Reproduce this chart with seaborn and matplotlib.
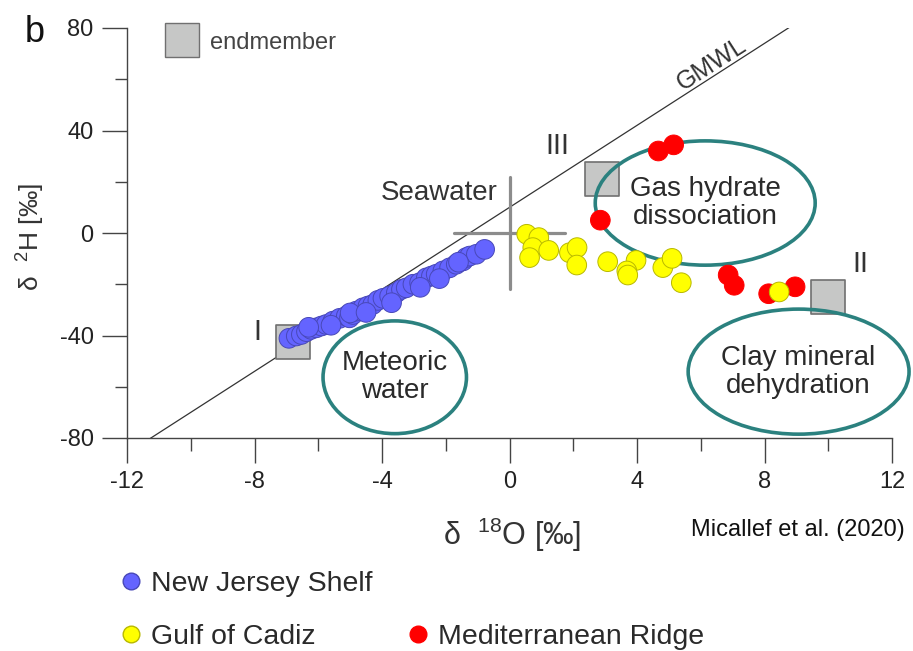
import matplotlib

matplotlib.use("Agg")

import matplotlib.pyplot as plt
import numpy as np
import pandas as pd
import seaborn as sns
from matplotlib.lines import Line2D
from matplotlib.patches import Ellipse

# New Jersey Shelf (d18O, d2H)
NJ_D18O = [-6.92, -6.69, -6.53, -6.37, -6.22, -6.06, -5.90, -5.75, -5.54, -5.33,
           -5.12, -5.02, -4.91, -4.81, -4.60, -4.44, -4.29, -4.13, -3.97, -3.76,
           -3.55, -3.39, -3.24, -3.03, -2.82, -2.61, -2.45, -2.30, -2.09, -1.88,
           -1.67, -1.46, -1.36, -1.25, -1.04, -0.78, -6.30, -5.60, -5.00, -4.50,
           -3.70, -2.80, -2.20, -1.60]
NJ_D2H = [-41.1, -40.2, -39.6, -38.5, -37.6, -37.0, -36.3, -35.7, -34.4, -33.3,
          -32.4, -33.1, -31.8, -30.5, -29.2, -28.5, -27.9, -26.3, -25.5, -24.6,
          -23.3, -22.0, -21.4, -20.0, -19.4, -17.5, -16.8, -16.1, -14.8, -13.6,
          -12.2, -10.9, -9.6, -9.0, -8.3, -6.4, -36.8, -36.0, -31.2, -31.0,
          -27.2, -21.2, -17.8, -11.4]

# Gulf of Cadiz
GC_D18O = [0.54, 0.92, 0.73, 1.23, 0.63, 1.88, 2.12, 2.11, 3.08, 3.97,
           3.68, 3.71, 4.81, 5.10, 5.39, 8.46]
GC_D2H = [-0.5, -1.8, -5.7, -6.8, -9.6, -7.7, -5.7, -12.5, -11.2, -10.7,
          -14.8, -16.4, -13.5, -9.9, -19.4, -23.0]

# Mediterranean Ridge
MR_D18O = [4.67, 5.15, 2.85, 6.86, 7.05, 8.13, 8.96]
MR_D2H = [32.0, 34.4, 5.0, -16.4, -20.4, -23.7, -21.0]

# endmembers I, III, II
EM_LABELS = ["I", "III", "II"]
EM_D18O = [-6.8, 2.9, 10.0]
EM_D2H = [-42.5, 21.0, -25.0]

SITES = ["New Jersey Shelf", "Gulf of Cadiz", "Mediterranean Ridge"]
SITE_COLORS = {"New Jersey Shelf": "#6464ff", "Gulf of Cadiz": "#ffff00",
               "Mediterranean Ridge": "#ff0000"}
SITE_EDGES = {"New Jersey Shelf": "#4848b8", "Gulf of Cadiz": "#b8b800",
              "Mediterranean Ridge": "#ff0000"}

# process regions: label, centre x, centre y, width, height
REGIONS = [
    ("Meteoric\nwater", -3.6, -56.3, 4.5, 44.0),
    ("Gas hydrate\ndissociation", 6.14, 11.7, 6.9, 48.5),
    ("Clay mineral\ndehydration", 9.07, -54.1, 6.93, 48.8),
]

TEAL = "#2b817f"

df = pd.concat([
    pd.DataFrame({"d18O": NJ_D18O, "d2H": NJ_D2H, "site": SITES[0]}),
    pd.DataFrame({"d18O": MR_D18O, "d2H": MR_D2H, "site": SITES[2]}),
    pd.DataFrame({"d18O": GC_D18O, "d2H": GC_D2H, "site": SITES[1]}),
], ignore_index=True)

sns.set_style("ticks")
plt.rcParams["font.family"] = ["Liberation Sans", "DejaVu Sans"]
plt.rcParams["mathtext.default"] = "regular"
plt.rcParams["axes.unicode_minus"] = False

fig = plt.figure(figsize=(9.13, 6.51), dpi=100)
ax = fig.add_axes([127 / 913, 1 - 438 / 651, 765 / 913, 410 / 651])

# GMWL: d2H = 8 d18O + 10
gx = np.array([-12.0, 12.0])
ax.plot(gx, 8 * gx + 10, color="#333333", lw=0.9, zorder=1)
ax.text(6.33, 66.0, "GMWL", rotation=32.7, ha="center", va="center",
        fontsize=18, color="#333333", rotation_mode="anchor")

# seawater cross
ax.plot([0, 0], [-22, 22], color="#8c8c8c", lw=2.3, zorder=2)
ax.plot([-1.75, 1.75], [0, 0], color="#8c8c8c", lw=2.3, zorder=2)
ax.text(-2.2, 15.5, "Seawater", ha="center", va="center", fontsize=20, color="#333333")

# endmembers
ax.scatter(EM_D18O, EM_D2H, marker="s", s=600, color="#c6c7c6",
           edgecolor="#707070", linewidth=1.2, zorder=3, clip_on=False)
em_text_offsets = {"I": (-1.1, 4.0), "III": (-1.4, 13.0), "II": (1.0, 13.0)}
for lab, x, y in zip(EM_LABELS, EM_D18O, EM_D2H):
    dx, dy = em_text_offsets[lab]
    ax.text(x + dx, y + dy, lab, ha="center", va="center", fontsize=21, color="#333333")

# process ellipses
for lab, cx, cy, w, h in REGIONS:
    ax.add_patch(Ellipse((cx, cy), w, h, fill=False, edgecolor=TEAL, lw=2.6,
                         zorder=4, clip_on=False))
    ax.text(cx, cy, lab, ha="center", va="center", fontsize=20,
            color="#2a2a2a", linespacing=1.1, zorder=6)

# samples
sns.scatterplot(data=df, x="d18O", y="d2H", hue="site", palette=SITE_COLORS,
                s=200, edgecolor=df["site"].map(SITE_EDGES), linewidth=0.7,
                legend=False, zorder=5, ax=ax, clip_on=False)

ax.set_xlim(-12, 12)
ax.set_ylim(-80, 80)
ax.set_xticks(np.arange(-12, 13, 4))
ax.set_xticks(np.arange(-12, 13, 2), minor=True)
ax.set_yticks(np.arange(-80, 81, 40))
ax.set_yticks(np.arange(-80, 81, 20), minor=True)
sns.despine(ax=ax)
for side in ["left", "bottom"]:
    ax.spines[side].set_color("#444444")
    ax.spines[side].set_linewidth(1.0)
ax.tick_params(which="major", direction="out", length=18, width=1.0,
               color="#444444", labelsize=17, labelcolor="#222222", pad=6)
ax.tick_params(which="minor", direction="out", length=9, width=1.0, color="#444444")

ax.set_xlabel(r"δ  $^{18}$O [‰]", fontsize=22, color="#333333")
ax.set_ylabel(r"δ  $^{2}$H [‰]", fontsize=19, color="#333333")
ax.xaxis.set_label_coords(0.503, -0.19)
ax.yaxis.set_label_coords(-0.105, 0.49)

# endmember key
em_handle = Line2D([], [], linestyle="none", marker="s", markersize=25,
                   markerfacecolor="#c6c7c6", markeredgecolor="#707070")
ax.legend([em_handle], ["endmember"], loc="upper left", bbox_to_anchor=(0.035, 1.02),
          frameon=False, fontsize=17, handlelength=1.4, handletextpad=0.5,
          labelcolor="#444444", borderpad=0)

# site key
site_handles = [Line2D([], [], linestyle="none", marker="o", markersize=12,
                       markerfacecolor=SITE_COLORS[s], markeredgecolor=SITE_EDGES[s])
                for s in SITES]
blank = Line2D([], [], linestyle="none")
fig.legend([site_handles[0], site_handles[1], blank, site_handles[2]],
           [SITES[0], SITES[1], "", SITES[2]], ncol=2, loc="upper left",
           bbox_to_anchor=(120 / 913, 1 - 571 / 651), frameon=False, fontsize=20.5,
           handlelength=0.8, handletextpad=0.3, labelspacing=0.95, columnspacing=1.2,
           borderpad=0, borderaxespad=0, labelcolor="#2a2a2a")

fig.text(25 / 913, 1 - 32 / 651, "b", fontsize=26, ha="left", va="center", color="#111111")
fig.text(905 / 913, 1 - 530 / 651, "Micallef et al. (2020)", fontsize=17,
         ha="right", va="center", color="#111111")

fig.savefig("out.png", dpi=100)
plt.close(fig)
